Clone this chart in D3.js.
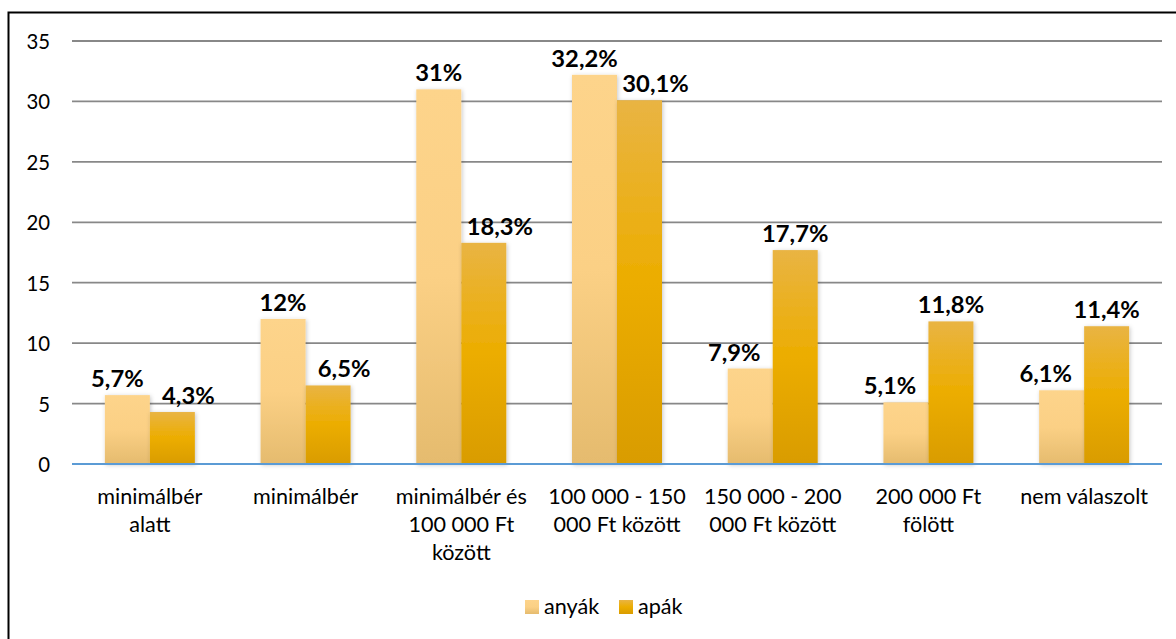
<!DOCTYPE html>
<html><head><meta charset="utf-8">
<script src="https://cdn.jsdelivr.net/npm/d3@7"></script>
<style>body{margin:0;background:#fff}svg{display:block}</style>
</head><body>
<svg id="c" width="1176" height="639"></svg>
<script>
const categories = [["minimálbér","alatt"],["minimálbér"],["minimálbér és","100 000 Ft","között"],["100 000 - 150","000 Ft között"],["150 000 - 200","000 Ft között"],["200 000 Ft","fölött"],["nem válaszolt"]];
const seriesNames = ["anyák","apák"];
const anyak = [5.7,12,31,32.2,7.9,5.1,6.1];
const apak = [4.3,6.5,18.3,30.1,17.7,11.8,11.4];
const yTicks = [0,5,10,15,20,25,30,35];

const FONT = "Lato, 'Open Sans', sans-serif";
const svg = d3.select("#c");
const defs = svg.append("defs");
function grad(id, stops){
  const g = defs.append("linearGradient").attr("id",id).attr("x1",0).attr("y1",0).attr("x2",0).attr("y2",1);
  stops.forEach(s=>g.append("stop").attr("offset",s[0]).attr("stop-color",s[1]));
}
grad("gA",[[0,"#FDD48B"],[0.5,"#FBD085"],[1,"#E5BB6E"]]);
grad("gB",[[0,"#E9B443"],[0.5,"#ECAD00"],[1,"#D99C00"]]);
const f = defs.append("filter").attr("id","sh").attr("x","-20%").attr("y","-10%").attr("width","140%").attr("height","120%");
f.append("feDropShadow").attr("dx",1).attr("dy",1).attr("stdDeviation",2).attr("flood-color","#000").attr("flood-opacity",0.22);

function txt(sel, x, y, s, opts){
  const o = Object.assign({size:21, anchor:"middle", weight:"normal", sx:1.03}, opts||{});
  return sel.append("text").attr("transform",`translate(${x},${y}) scale(${o.sx},1)`)
    .attr("text-anchor",o.anchor).attr("font-family",FONT).attr("font-size",o.size)
    .attr("font-weight",o.weight).attr("fill","#000").text(s);
}

svg.append("rect").attr("x",8.5).attr("y",12.5).attr("width",1200).attr("height",700)
  .attr("fill","#fff").attr("stroke","#000").attr("stroke-width",2);

const x0 = d3.scaleBand().domain(d3.range(categories.length)).range([72,1162]).paddingInner(0).paddingOuter(0);
const y = d3.scaleLinear().domain([0,35]).range([464,41]);
const bw = 45;

svg.append("g").selectAll("line").data(yTicks.filter(t=>t>0)).join("line")
  .attr("x1",72).attr("x2",1162).attr("y1",d=>y(d)).attr("y2",d=>y(d))
  .attr("stroke","#888").attr("stroke-width",1.8);

const yAxis = svg.append("g").attr("transform","translate(50,0)")
  .call(d3.axisLeft(y).tickValues(yTicks).tickSize(0).tickPadding(0));
yAxis.select(".domain").remove();
yAxis.selectAll(".tick text").remove();
yAxis.selectAll(".tick").each(function(d){
  txt(d3.select(this), 0, 7.5, String(d), {anchor:"end", sx:0.97});
});

const data = categories.map((c,i)=>({i, vals:[anyak[i],apak[i]]}));
const groups = svg.append("g").selectAll("g").data(data).join("g");
groups.each(function(d){
  const g = d3.select(this);
  const cx = x0(d.i)+x0.bandwidth()/2;
  d.vals.forEach((v,k)=>{
    const xL = cx - bw + k*bw;
    g.append("rect").attr("x",xL).attr("y",y(v)).attr("width",bw).attr("height",y(0)-y(v))
      .attr("fill",k===0?"url(#gA)":"url(#gB)").attr("filter","url(#sh)");
  });
});

// value labels: Excel-like nudging so neighbouring labels don't crowd
const lab = svg.append("g");
data.forEach(d=>{
  const cx = x0(d.i)+x0.bandwidth()/2;
  const [a,b] = d.vals;
  const close = Math.abs(y(a)-y(b)) < 30;
  d.vals.forEach((v,k)=>{
    const xL = cx - bw + k*bw;
    const dir = k===0 ? -1 : 1;
    const other = d.vals[1-k];
    let dx = 0;
    if (v < other) dx = dir*16;
    else if (close) dx = dir*10;
    txt(lab, xL+bw/2+dx, y(v)-8, String(v).replace(".",",")+"%", {weight:"bold", size:22, sx:1.08});
  });
});

svg.append("line").attr("x1",72).attr("x2",1162).attr("y1",y(0)).attr("y2",y(0))
  .attr("stroke","#5B9BD5").attr("stroke-width",1.8);

const xAxis = svg.append("g");
categories.forEach((lines,i)=>{
  const cx = x0(i)+x0.bandwidth()/2;
  lines.forEach((l,j)=>txt(xAxis, cx, 504+j*28, l));
});

const lg = svg.append("g");
const lx = [525,619];
seriesNames.forEach((s,k)=>{
  lg.append("rect").attr("x",lx[k]).attr("y",600).attr("width",14).attr("height",14).attr("fill",k===0?"url(#gA)":"url(#gB)");
  txt(lg, lx[k]+19, 614, s, {anchor:"start"});
});
</script>
</body></html>
